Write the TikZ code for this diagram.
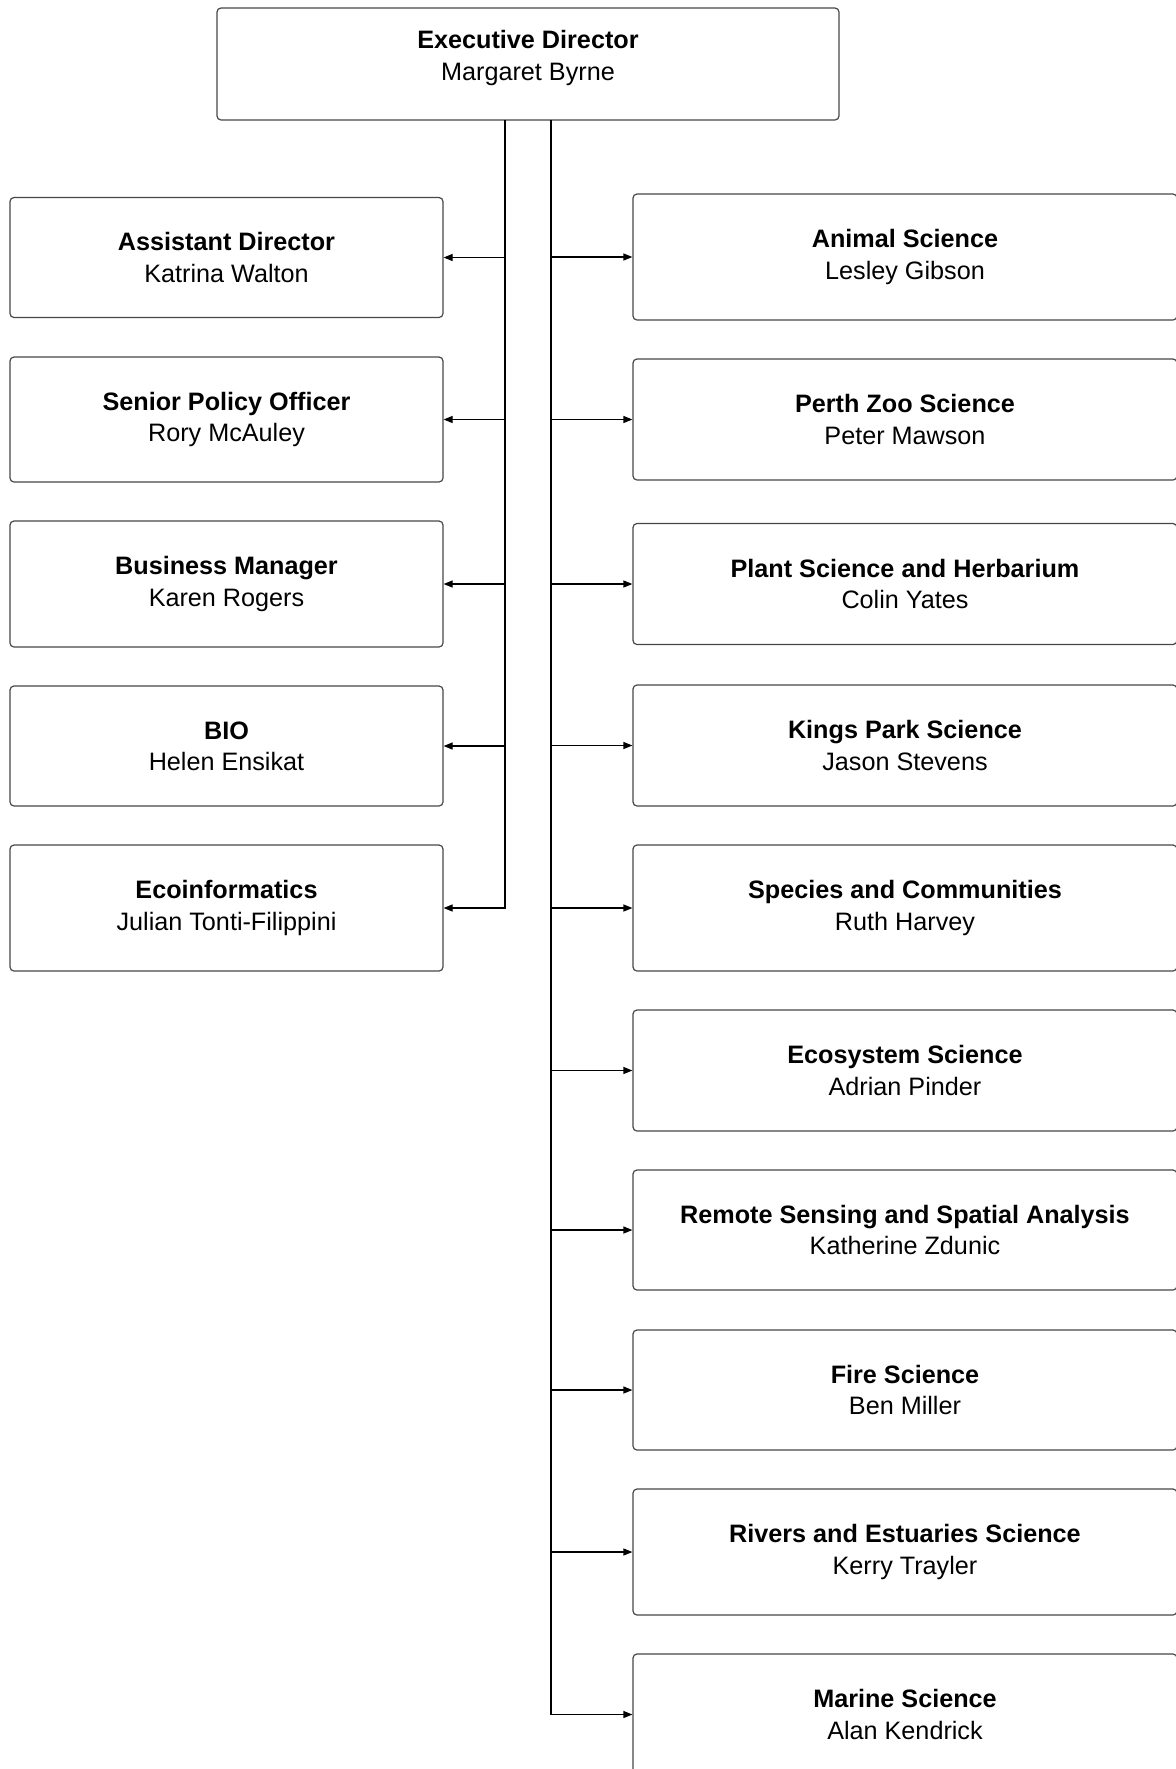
\documentclass[tikz,border=0pt]{standalone}
\usepackage{fontspec}
\setmainfont{Liberation Sans}
\usetikzlibrary{arrows.meta}
\begin{document}
\begin{tikzpicture}[x=0.5pt,y=-0.5pt,
  box/.style={draw=black!72, line width=0.6pt, rounded corners=2pt, inner sep=0pt,
    align=center, font=\fontsize{12.6}{15.6}\selectfont},
  txt/.style={inner sep=0pt, align=center, font=\fontsize{12.6}{15.6}\selectfont},
  conn/.style={draw=black, line width=0.6pt},
  arr/.style={conn, -{Triangle[length=4.5pt,width=3.5pt]}}]
\useasboundingbox (0,0) rectangle (1176,1769);
% top
\node[box, minimum width=311pt, minimum height=56pt] (ed) at (528,64) {};
\node[txt] (edt) at (528,58) {\textbf{Executive Director}\\Margaret Byrne};
% left column
\node[box, minimum width=216.5pt, minimum height=60pt]   (ad)  at (226.5,257.5) {\textbf{Assistant Director}\\Katrina Walton};
\node[box, minimum width=216.5pt, minimum height=62.5pt] (spo) at (226.5,419.5) {\textbf{Senior Policy Officer}\\Rory McAuley};
\node[box, minimum width=216.5pt, minimum height=63pt]   (bm)  at (226.5,584)   {\textbf{Business Manager}\\Karen Rogers};
\node[box, minimum width=216.5pt, minimum height=60pt]   (bio) at (226.5,746)   {\textbf{BIO}\\Helen Ensikat};
\node[box, minimum width=216.5pt, minimum height=63pt]   (eci) at (226.5,908)   {\textbf{Ecoinformatics}\\Julian Tonti-Filippini};
% right column
\node[box, minimum width=272pt, minimum height=63pt]   (as)  at (905,257)    {\textbf{Animal Science}\\Lesley Gibson};
\node[box, minimum width=272pt, minimum height=60.5pt] (pz)  at (905,419.5)  {\textbf{Perth Zoo Science}\\Peter Mawson};
\node[box, minimum width=272pt, minimum height=60.5pt] (ps)  at (905,584)    {\textbf{Plant Science and Herbarium}\\Colin Yates};
\node[box, minimum width=272pt, minimum height=60.5pt] (kp)  at (905,745.5)  {\textbf{Kings Park Science}\\Jason Stevens};
\node[box, minimum width=272pt, minimum height=63pt]   (sc)  at (905,908)    {\textbf{Species and Communities}\\Ruth Harvey};
\node[box, minimum width=272pt, minimum height=60.5pt] (es)  at (905,1070.5) {\textbf{Ecosystem Science}\\Adrian Pinder};
\node[box, minimum width=272pt, minimum height=60pt]   (rs)  at (905,1230)   {\textbf{Remote Sensing and Spatial Analysis}\\Katherine Zdunic};
\node[box, minimum width=272pt, minimum height=60pt]   (fs)  at (905,1390)   {\textbf{Fire Science}\\Ben Miller};
\node[box, minimum width=272pt, minimum height=63pt]   (re)  at (905,1552)   {\textbf{Rivers and Estuaries Science}\\Kerry Trayler};
\node[box, minimum width=272pt, minimum height=60.5pt] (ms)  at (905,1714.5) {\textbf{Marine Science}\\Alan Kendrick};
% trunks
\coordinate (ltop) at (505,120);
\coordinate (rtop) at (551,120);
\draw[arr] (ltop) |- (eci.east);
\draw[arr] (rtop) |- (ms.west);
\foreach \n in {ad,spo,bm,bio}
  \draw[arr] (\n.east -| ltop) -- (\n.east);
\foreach \n in {as,pz,ps,kp,sc,es,rs,fs,re}
  \draw[arr] (\n.west -| rtop) -- (\n.west);
\end{tikzpicture}
\end{document}
